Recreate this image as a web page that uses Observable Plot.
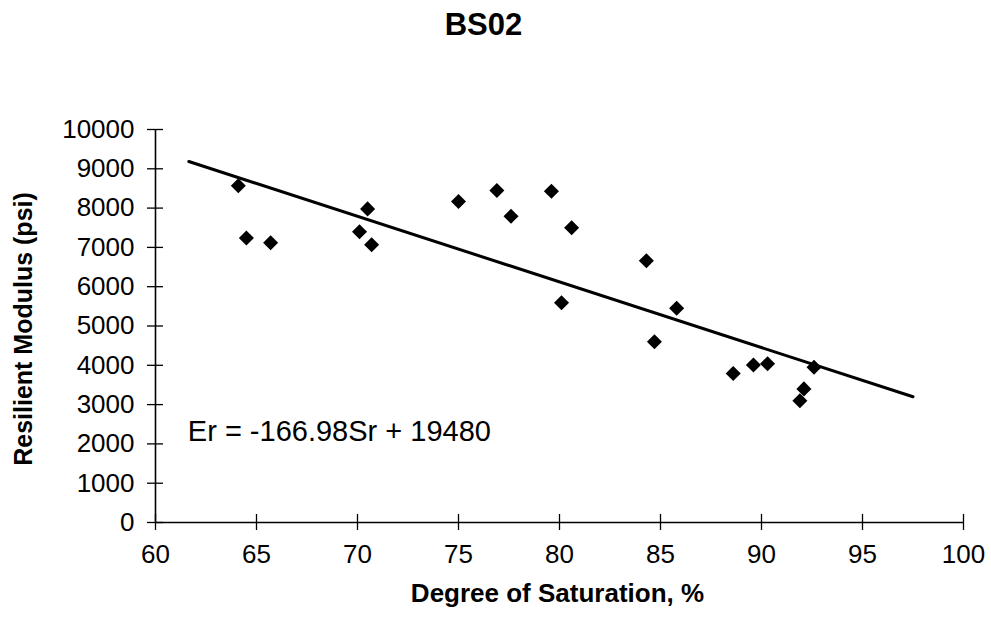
<!DOCTYPE html>
<html>
<head>
<meta charset="utf-8">
<script src="https://cdn.jsdelivr.net/npm/d3@7"></script>
<script src="https://cdn.jsdelivr.net/npm/@observablehq/plot@0.6"></script>
<style>
  html, body { margin: 0; padding: 0; background: #fff; }
  #chart svg { display: block; }
</style>
</head>
<body>
<div id="chart"></div>
<script>
// Data
const saturation = [64.1, 64.5, 65.7, 70.1, 70.5, 70.7, 75.0, 76.9, 77.6, 79.6, 80.1, 80.6, 84.3, 84.7, 85.8, 88.6, 89.6, 90.3, 91.9, 92.1, 92.6];
const modulus    = [8570, 7240, 7120, 7400, 7980, 7070, 8170, 8450, 7790, 8430, 5590, 7500, 6660, 4600, 5450, 3790, 4010, 4040, 3100, 3400, 3950];
const xTicks = [60, 65, 70, 75, 80, 85, 90, 95, 100];
const yTicks = [0, 1000, 2000, 3000, 4000, 5000, 6000, 7000, 8000, 9000, 10000];
const trendSlope = -166.98;
const trendIntercept = 19480;
const trendExtent = [61.65, 97.5];
const titleText = ["BS02"];
const xLabel = ["Degree of Saturation, %"];
const yLabel = ["Resilient Modulus (psi)"];
const annotation = [{x: 61.6, y: 2300, label: "Er = -166.98Sr + 19480"}];

const points = saturation.map((s, i) => ({x: s, y: modulus[i]}));
const trend = trendExtent.map(x => ({x, y: trendSlope * x + trendIntercept}));

const chart = Plot.plot({
  width: 991,
  height: 617,
  marginLeft: 155,
  marginRight: 28,
  marginTop: 129,
  marginBottom: 95,
  style: {fontFamily: "'Liberation Sans', Arial, sans-serif", fontSize: "26px", color: "#000", background: "#fff"},
  x: {domain: [60, 100]},
  y: {domain: [0, 10000]},
  marks: [
    Plot.axisX(xTicks, {anchor: "bottom", tickSize: 16, dy: -8, tickPadding: 14, fontSize: 26, strokeWidth: 1.3, tickFormat: "d", label: null}),
    Plot.axisY(yTicks, {anchor: "left", tickSize: 16, dx: 8, tickPadding: 13, fontSize: 26, strokeWidth: 1.3, tickFormat: "d", label: null}),
    Plot.ruleX([60], {stroke: "#000", strokeWidth: 1.6}),
    Plot.ruleY([0], {stroke: "#000", strokeWidth: 1.6}),
    Plot.line(trend, {x: "x", y: "y", stroke: "#000", strokeWidth: 3}),
    Plot.dot(points, {x: "x", y: "y", symbol: "square", r: 6, rotate: 45, fill: "#000", stroke: "none"}),
    Plot.text(annotation, {x: "x", y: "y", text: "label", textAnchor: "start", lineAnchor: "middle", fontSize: 29, fill: "#000"}),
    Plot.text(titleText, {frameAnchor: "top", text: d => d, dx: -76, dy: -117, lineAnchor: "top", fontSize: 31, fontWeight: "bold", fill: "#000"}),
    Plot.text(xLabel, {frameAnchor: "bottom", text: d => d, dx: -2, dy: 61, lineAnchor: "top", fontSize: 26, fontWeight: "bold", fill: "#000"}),
    Plot.text(yLabel, {frameAnchor: "left", text: d => d, dx: -132, dy: 3, rotate: -90, textAnchor: "middle", lineAnchor: "middle", fontSize: 25, fontWeight: "bold", fill: "#000"})
  ]
});
document.getElementById("chart").appendChild(chart);
</script>
</body>
</html>
